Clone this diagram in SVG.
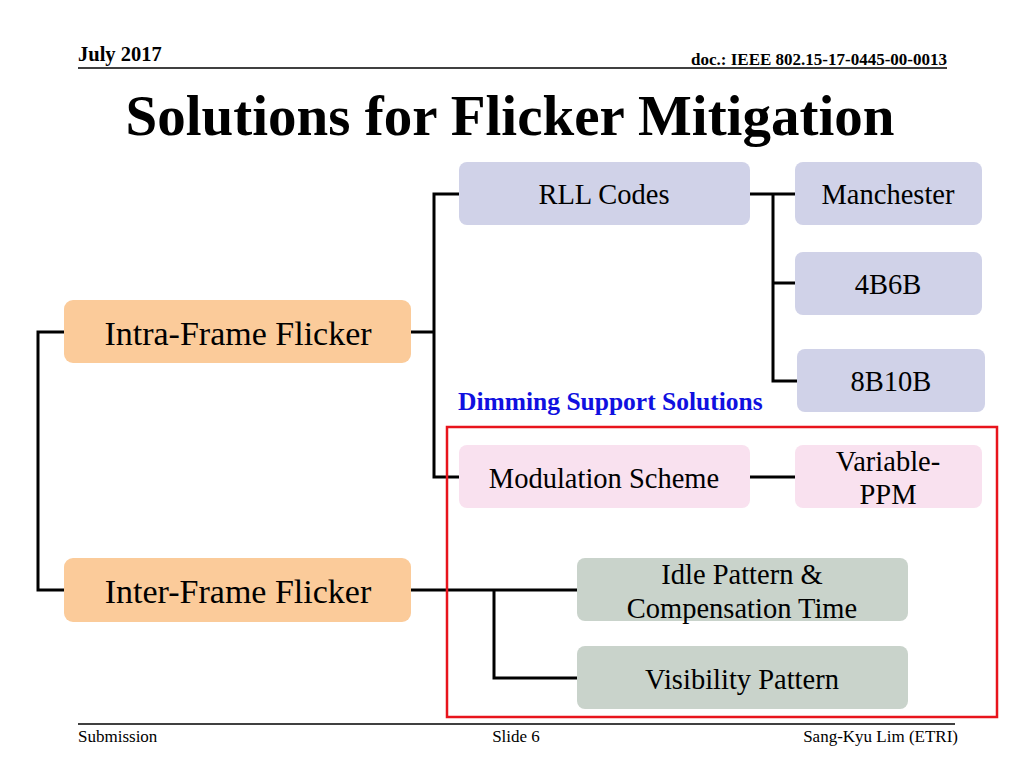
<svg xmlns="http://www.w3.org/2000/svg" width="1024" height="768" viewBox="0 0 1024 768">
<style>
text{font-family:"Liberation Serif","Times New Roman",serif;fill:#000}
.ftr{font-size:17px}
.lav{fill:#d0d2e8}
.peach{fill:#fbcb9a}
.pink{fill:#f9e1ef}
.grn{fill:#c9d3cb}
.lbl{font-size:28.5px;text-anchor:middle}
.big{font-size:34px;text-anchor:middle}
.conn{fill:none;stroke:#000;stroke-width:3}
</style>
<rect width="1024" height="768" fill="#fff"/>
<text x="78" y="61" font-weight="bold" font-size="20.5">July 2017</text>
<text x="947" y="65" font-weight="bold" font-size="17" text-anchor="end">doc.: IEEE 802.15-17-0445-00-0013</text>
<line x1="78" y1="68" x2="947" y2="68" stroke="#000" stroke-width="1.5"/>
<text x="510" y="135" font-weight="bold" font-size="57" text-anchor="middle">Solutions for Flicker Mitigation</text>

<g id="connectors">
<path class="conn" d="M64,332 H38 V590 H64"/>
<path class="conn" d="M411,332 H434 M459,194 H434 V477 H459"/>
<path class="conn" d="M750,194 H795 M773,194 V381 H797 M773,283 H795"/>
<path class="conn" d="M750,477 H795"/>
<path class="conn" d="M411,590 H577 M494,590 V678 H577"/>
</g>

<rect x="447" y="427" width="550" height="290" fill="none" stroke="#e8141c" stroke-width="2.5"/>
<text x="458" y="410" font-weight="bold" font-size="25.5" style="fill:#1010e0">Dimming Support Solutions</text>

<g id="rll"><rect class="lav" x="459" y="162" width="291" height="63" rx="8"/><text class="lbl" x="604" y="204">RLL Codes</text></g>
<g id="manchester"><rect class="lav" x="795" y="162" width="187" height="63" rx="8"/><text class="lbl" x="888" y="204">Manchester</text></g>
<g id="b4b6b"><rect class="lav" x="795" y="252" width="187" height="63" rx="8"/><text class="lbl" x="888" y="294">4B6B</text></g>
<g id="b8b10b"><rect class="lav" x="797" y="349" width="188" height="63" rx="8"/><text class="lbl" x="891" y="391">8B10B</text></g>
<g id="intra"><rect class="peach" x="64" y="300" width="347" height="63" rx="9"/><text class="big" x="238" y="345">Intra-Frame Flicker</text></g>
<g id="inter"><rect class="peach" x="64" y="558" width="347" height="64" rx="9"/><text class="big" x="238" y="603">Inter-Frame Flicker</text></g>
<g id="modulation"><rect class="pink" x="459" y="445" width="291" height="63" rx="8"/><text class="lbl" x="604" y="488">Modulation Scheme</text></g>
<g id="vppm"><rect class="pink" x="795" y="445" width="187" height="63" rx="8"/><text class="lbl" x="888" y="471">Variable-</text><text class="lbl" x="888" y="504">PPM</text></g>
<g id="idle"><rect class="grn" x="577" y="558" width="331" height="63" rx="8"/><text class="lbl" x="742" y="584">Idle Pattern &amp;</text><text class="lbl" x="742" y="618">Compensation Time</text></g>
<g id="visibility"><rect class="grn" x="577" y="646" width="331" height="63" rx="8"/><text class="lbl" x="742" y="689">Visibility Pattern</text></g>

<line x1="78" y1="724" x2="955" y2="724" stroke="#000" stroke-width="1.5"/>
<text x="78" y="742" class="ftr">Submission</text>
<text x="516" y="742" class="ftr" text-anchor="middle">Slide 6</text>
<text x="958" y="742" class="ftr" text-anchor="end">Sang-Kyu Lim (ETRI)</text>
</svg>
